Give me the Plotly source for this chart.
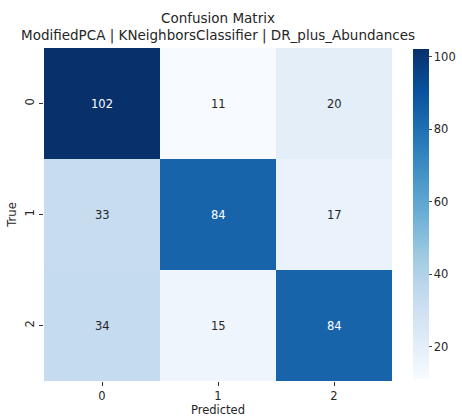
import plotly.graph_objects as go

# Confusion matrix counts (rows = true class, columns = predicted class)
class_labels = ["0", "1", "2"]
counts = [
    [102, 11, 20],
    [33, 84, 17],
    [34, 15, 84],
]
colorbar_ticks = [20, 40, 60, 80, 100]
title_lines = ["Confusion Matrix",
               "ModifiedPCA | KNeighborsClassifier | DR_plus_Abundances"]

# matplotlib-style "Blues" sequential palette
blues = ["#f7fbff", "#deebf7", "#c6dbef", "#9ecae1", "#6baed6",
         "#4292c6", "#2171b5", "#08519c", "#08306b"]
colorscale = [[i / (len(blues) - 1), c] for i, c in enumerate(blues)]

zmin = min(min(r) for r in counts)
zmax = max(max(r) for r in counts)

W, H = 462, 417
ml, mr, mt, mb = 44, 70, 48, 36
pw = W - ml - mr
ph = H - mt - mb
cb_left = (413 - ml) / pw

fig = go.Figure(go.Heatmap(
    z=counts,
    x=class_labels,
    y=class_labels,
    zmin=zmin,
    zmax=zmax,
    colorscale=colorscale,
    showscale=True,
    hoverinfo="skip",
    colorbar=dict(
        x=cb_left, xanchor="left", xpad=0, ypad=0,
        y=0.5, yanchor="middle",
        thickness=16, lenmode="pixels", len=ph - 3,
        tickvals=colorbar_ticks, ticks="outside", ticklen=3,
        outlinewidth=0, tickfont=dict(size=11.5, color="#262626"),
    ),
))

# Cell annotations, white text on dark cells
mid = (zmin + zmax) / 2
for i, row in enumerate(counts):
    for j, v in enumerate(row):
        fig.add_annotation(
            x=class_labels[j], y=class_labels[i], text=str(v),
            showarrow=False,
            font=dict(size=11.5, color="white" if v > mid else "#262626"),
        )

# Two-line title centred over the heatmap
for line, ypix in zip(title_lines, [18, 35]):
    fig.add_annotation(
        xref="paper", yref="paper", x=0.5, xanchor="center",
        y=1 + (mt - ypix) / ph, yanchor="middle",
        text=line, showarrow=False, font=dict(size=13.5, color="#262626"),
    )

fig.update_layout(
    width=W, height=H,
    margin=dict(l=ml, r=mr, t=mt, b=mb, autoexpand=False),
    paper_bgcolor="white", plot_bgcolor="white",
    font=dict(family="DejaVu Sans", size=11.5, color="#262626"),
    xaxis=dict(
        domain=[0, 1], title=dict(text="Predicted", standoff=2, font=dict(size=11.5)),
        ticks="outside", ticklen=4, tickcolor="#333", showgrid=False, zeroline=False,
        tickfont=dict(size=11.5),
    ),
    yaxis=dict(
        autorange="reversed", title=dict(text="True", standoff=4, font=dict(size=11.5)),
        ticks="outside", ticklen=4, tickcolor="#333", showgrid=False, zeroline=False,
        tickangle=-90, tickfont=dict(size=11.5),
    ),
)

fig.write_html("out.html")
